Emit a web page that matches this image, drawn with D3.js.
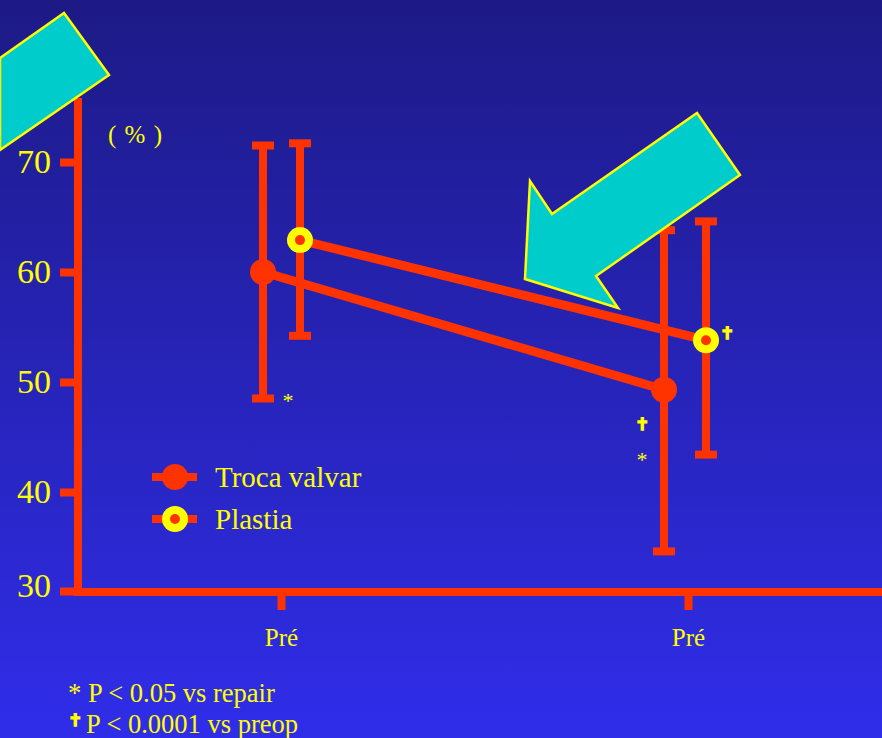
<!DOCTYPE html>
<meta charset="utf-8">
<script src="https://d3js.org/d3.v7.min.js"></script>
<style>
    body { margin: 0; background: #2626b8; }
    text { font-family: "Liberation Serif", "Times New Roman", serif; fill: #ffff00; }
</style>
<body>
<script>
    // data
    var categories = ["Pré", "Pré"];
    var yTicks = [30, 40, 50, 60, 70];
    var trocaMean = [60, 49.3];
    var trocaLow = [48.5, 34];
    var trocaHigh = [71.5, 63.8];
    var plastiaMean = [62.9, 53.8];
    var plastiaLow = [54.2, 43.4];
    var plastiaHigh = [71.7, 64.6];
    var seriesNames = ["Troca valvar", "Plastia"];
    var footnotes = ["* P < 0.05 vs repair", "P < 0.0001 vs preop"];

    var width = 882, height = 738;
    var red = "#ff3300", yellow = "#ffff00";

    var svg = d3.select("body").append("svg")
        .attr("width", width)
        .attr("height", height)
        .style("display", "block");

    var defs = svg.append("defs");
    var grad = defs.append("linearGradient")
        .attr("id", "bg")
        .attr("x1", "0%").attr("y1", "0%")
        .attr("x2", "0%").attr("y2", "100%");
    grad.append("stop").attr("offset", 0).attr("stop-color", "#1d1a86");
    grad.append("stop").attr("offset", 1).attr("stop-color", "#302dea");

    svg.append("rect")
        .attr("width", width)
        .attr("height", height)
        .attr("fill", "url(#bg)");

    // category axis and one position scale per series (bars sit beside the tick)
    var x = d3.scalePoint().domain([0, 1]).range([281, 688]);
    var xTroca = d3.scalePoint().domain([0, 1]).range([263, 664]);
    var xPlastia = d3.scalePoint().domain([0, 1]).range([300, 706]);
    var y = d3.scaleLinear().domain([30, 40, 70]).range([591, 492, 162]);

    var series = [
        {mean: trocaMean, low: trocaLow, high: trocaHigh, x: xTroca, type: "troca"},
        {mean: plastiaMean, low: plastiaLow, high: plastiaHigh, x: xPlastia, type: "plastia"}
    ];

    //error bars
    series.forEach(function (s) {
        var g = svg.append("g");
        g.selectAll(".bar")
            .data(d3.range(s.mean.length))
            .enter().append("line")
            .attr("x1", i => s.x(i)).attr("x2", i => s.x(i))
            .attr("y1", i => y(s.low[i])).attr("y2", i => y(s.high[i]))
            .attr("stroke", red).attr("stroke-width", 8);
        [s.low, s.high].forEach(function (arr) {
            g.selectAll(null)
                .data(d3.range(s.mean.length))
                .enter().append("line")
                .attr("x1", i => s.x(i) - 11).attr("x2", i => s.x(i) + 11)
                .attr("y1", i => y(arr[i])).attr("y2", i => y(arr[i]))
                .attr("stroke", red).attr("stroke-width", 8);
        });
    });

    //lines
    var line = d3.line();
    series.forEach(function (s) {
        svg.append("path")
            .attr("d", line(s.mean.map((v, i) => [s.x(i), y(v)])))
            .attr("fill", "none")
            .attr("stroke", red)
            .attr("stroke-width", 9);
    });

    //markers
    function marker(g, cx, cy, type) {
        if (type === "troca") {
            g.append("circle").attr("cx", cx).attr("cy", cy).attr("r", 13).attr("fill", red);
        } else {
            g.append("circle").attr("cx", cx).attr("cy", cy).attr("r", 13).attr("fill", yellow);
            g.append("circle").attr("cx", cx).attr("cy", cy).attr("r", 5).attr("fill", red);
        }
    }
    series.forEach(function (s) {
        s.mean.forEach(function (v, i) {
            marker(svg, s.x(i), y(v), s.type);
        });
    });

    //significance marks
    function cross(sel) {
        sel.style("font-family", "DejaVu Sans")
            .style("font-size", "17px")
            .attr("fill", "#2a28c0")
            .attr("stroke", yellow)
            .attr("stroke-width", 1.3)
            .text("✝");
    }
    var sigs = [
        {t: "*", i: 0, dx: 7, v: 47.6},
        {t: "+", i: 1, dx: 39, v: 53.9},
        {t: "+", i: 1, dx: -46, v: 45.6},
        {t: "*", i: 1, dx: -46, v: 42.3}
    ];
    svg.selectAll(".sig")
        .data(sigs)
        .enter().append("text")
        .attr("x", d => x(d.i) + d.dx)
        .attr("y", d => y(d.v))
        .attr("text-anchor", "middle")
        .style("font-size", "22px")
        .text(d => d.t)
        .filter(d => d.t === "+")
        .call(cross);

    //y axis
    svg.append("line")
        .attr("x1", 78).attr("x2", 78)
        .attr("y1", 98).attr("y2", 596)
        .attr("stroke", red).attr("stroke-width", 8);
    var yAxis = svg.append("g")
        .attr("transform", "translate(78,0)")
        .call(d3.axisLeft(y).tickValues(yTicks).tickSize(18).tickPadding(9));
    yAxis.select(".domain").remove();
    yAxis.selectAll(".tick line").attr("stroke", red).attr("stroke-width", 8);
    yAxis.selectAll(".tick text")
        .attr("fill", yellow)
        .attr("dy", d => d === 30 ? "0.17em" : "0.32em")
        .style("font-size", "34px")
        .style("font-family", "Liberation Serif");

    //x axis
    svg.append("line")
        .attr("x1", 74).attr("x2", width)
        .attr("y1", 592).attr("y2", 592)
        .attr("stroke", red).attr("stroke-width", 8);
    var xAxis = svg.append("g")
        .attr("transform", "translate(0,592)")
        .call(d3.axisBottom(x).tickSize(18).tickPadding(18).tickFormat(i => categories[i]));
    xAxis.select(".domain").remove();
    xAxis.selectAll(".tick line").attr("stroke", red).attr("stroke-width", 8);
    xAxis.selectAll(".tick text")
        .attr("fill", yellow)
        .style("font-size", "25px")
        .style("font-family", "Liberation Serif");

    svg.append("text")
        .attr("x", 108).attr("y", 143)
        .style("font-size", "25px")
        .style("word-spacing", "2px")
        .text("( % )");

    //legend
    var legend = svg.append("g");
    series.forEach(function (s, k) {
        var ly = 477 + k * 42;
        legend.append("line")
            .attr("x1", 152).attr("x2", 197)
            .attr("y1", ly).attr("y2", ly)
            .attr("stroke", red).attr("stroke-width", 8);
        marker(legend, 175, ly, s.type);
        legend.append("text")
            .attr("x", 215).attr("y", ly + 10)
            .style("font-size", "29px")
            .text(seriesNames[k]);
    });

    //footnotes
    svg.append("text")
        .attr("x", 68).attr("y", 702)
        .style("font-size", "26.5px")
        .text(footnotes[0]);
    svg.append("text")
        .attr("x", 75).attr("y", 726)
        .attr("text-anchor", "middle")
        .call(cross);
    svg.append("text")
        .attr("x", 86).attr("y", 733)
        .style("font-size", "26.5px")
        .text(footnotes[1]);

    //arrows
    var arrows = [
        [[0, 58], [64, 13], [109, 75], [0, 150]],
        [[697, 113], [740, 175], [596, 276], [618, 308], [525, 279], [530, 181], [552, 214]]
    ];
    svg.selectAll(".arrow")
        .data(arrows)
        .enter().append("polygon")
        .attr("points", d => d.map(p => p.join(",")).join(" "))
        .attr("fill", "#00cccc")
        .attr("stroke", yellow)
        .attr("stroke-width", 2.5)
        .attr("stroke-linejoin", "miter");
</script>
</body>
